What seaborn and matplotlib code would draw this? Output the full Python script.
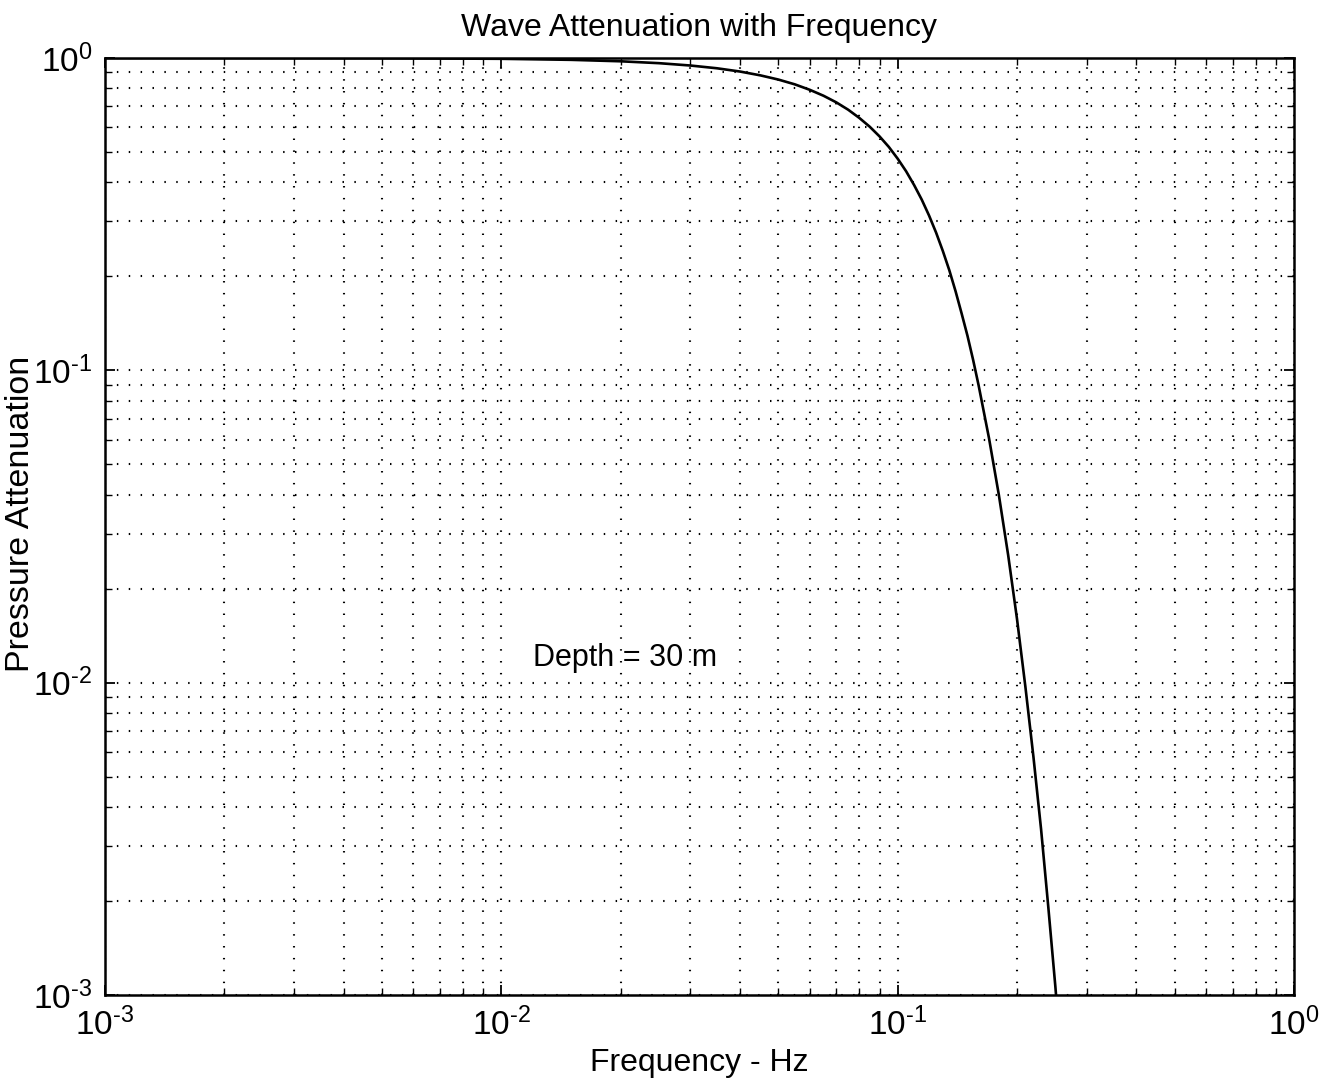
import numpy as np
import pandas as pd
import seaborn as sns
import matplotlib
matplotlib.use("Agg")
import matplotlib.pyplot as plt
from matplotlib.ticker import LogLocator, NullFormatter, FuncFormatter

# %%
# values (depth 30 m)
freq = [0.001, 0.002, 0.005, 0.01, 0.015, 0.02, 0.025, 0.03, 0.035, 0.04, 0.045,
        0.05, 0.055, 0.06, 0.065, 0.07, 0.075, 0.08, 0.085, 0.09, 0.095, 0.10,
        0.105, 0.11, 0.115, 0.12, 0.125, 0.13, 0.135, 0.14, 0.145, 0.15, 0.155,
        0.16, 0.17, 0.18, 0.19, 0.20, 0.21, 0.22, 0.23, 0.24, 0.25, 0.26]
atten = [1.0, 0.9998, 0.9985, 0.994, 0.9865, 0.976, 0.9625, 0.946, 0.927, 0.905, 0.880,
         0.853, 0.8235, 0.791, 0.757, 0.721, 0.683, 0.643, 0.6026, 0.561, 0.519, 0.476,
         0.434, 0.392, 0.352, 0.313, 0.276, 0.241, 0.209, 0.179, 0.152, 0.129, 0.108,
         0.0896, 0.0606, 0.0399, 0.0256, 0.0160, 0.0097, 0.0058, 0.0034, 0.0019, 0.00106, 0.00057]

title = 'Wave Attenuation with Frequency'
xlabel = 'Frequency - Hz'
ylabel = 'Pressure Attenuation'
note = 'Depth = 30 m'

# %%
sns.set_style("ticks")
plt.rcParams['font.family'] = ['Liberation Sans', 'DejaVu Sans']
plt.rcParams['mathtext.fontset'] = 'custom'
plt.rcParams['mathtext.rm'] = 'Liberation Sans'
plt.rcParams['mathtext.it'] = 'Liberation Sans'
plt.rcParams['text.color'] = 'black'
plt.rcParams['axes.labelcolor'] = 'black'


def decade_label(v, pos):
    e = int(round(np.log10(v)))
    if e < 0:
        return r'$\mathdefault{10^{\text{-}%d}}$' % (-e)
    return r'$\mathdefault{10^{%d}}$' % e


df = pd.DataFrame({'Frequency': freq, 'Attenuation': atten})

fig = plt.figure(figsize=(13.32, 10.86), dpi=100)
ax = fig.add_axes([0.0788, 0.0838, 0.8927, 0.8628])

sns.lineplot(data=df, x='Frequency', y='Attenuation', color='black', lw=1.9, ax=ax)
ax.set_xscale('log')
ax.set_yscale('log')
ax.set_xlim(1e-3, 1)
ax.set_ylim(1e-3, 1)

for axis in (ax.xaxis, ax.yaxis):
    axis.set_major_locator(LogLocator(base=10, numticks=10))
    axis.set_major_formatter(FuncFormatter(decade_label))
    axis.set_minor_locator(LogLocator(base=10, subs=np.arange(2, 10), numticks=20))
    axis.set_minor_formatter(NullFormatter())

ax.grid(True, which='both', color='black', linestyle=(0, (0.7, 5.0)), linewidth=1.5)
ax.tick_params(which='both', direction='in', top=True, right=True, colors='black')
ax.tick_params(which='major', length=7, width=1.3, labelsize=24, pad=9)
ax.tick_params(which='minor', length=5, width=1.0)
for s in ax.spines.values():
    s.set_linewidth(1.8)
    s.set_color('black')

ax.set_title(title, fontsize=23, pad=16, color='black')
ax.set_xlabel(xlabel, fontsize=23, labelpad=4)
ax.set_ylabel(ylabel, fontsize=24.5)
ax.yaxis.set_label_coords(-0.058, 0.513)
ax.text(0.012, 0.012, note, fontsize=22, ha='left', va='center', color='black')

plt.savefig('out.png', dpi=100)
